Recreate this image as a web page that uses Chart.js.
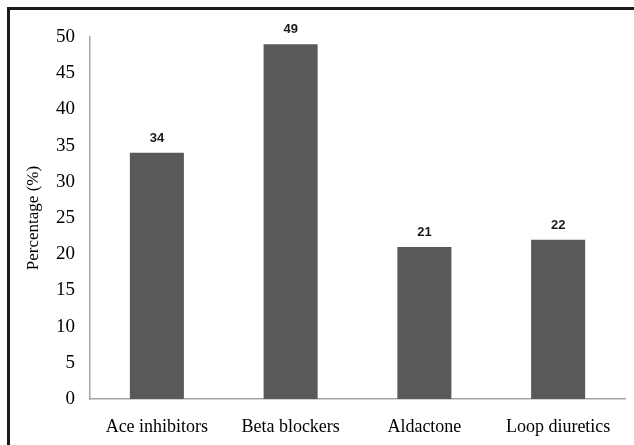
<!DOCTYPE html>
<html>
<head>
<meta charset="utf-8">
<script src="https://cdn.jsdelivr.net/npm/chart.js@4"></script>
<style>
  html, body { margin: 0; padding: 0; background: #ffffff; }
  #wrap { position: relative; width: 634px; height: 445px; overflow: hidden; }
  #frame { position: absolute; left: 7px; top: 7px; width: 700px; height: 500px;
           border-top: 3px solid #1a1a1a; border-left: 3px solid #1a1a1a; box-sizing: border-box; }
  canvas { position: absolute; left: 0; top: 0; }
</style>
</head>
<body>
<div id="wrap">
  <div id="frame"></div>
  <canvas id="chart" width="634" height="445"></canvas>
</div>
<script>
// Medication use by drug class
const categories = ['Ace inhibitors', 'Beta blockers', 'Aldactone', 'Loop diuretics'];
const percentages = [34, 49, 21, 22];
const yTicks = [0, 5, 10, 15, 20, 25, 30, 35, 40, 45, 50];

const barColor = '#595959';
const axisColor = '#a6a6a6';
const serif = '"Liberation Serif", "Times New Roman", serif';

// Writes each bar's value just above it
const valueLabels = {
  id: 'valueLabels',
  afterDatasetsDraw(chart) {
    const ctx = chart.ctx;
    const meta = chart.getDatasetMeta(0);
    ctx.save();
    ctx.font = 'bold 13px "Liberation Sans", Arial, sans-serif';
    ctx.fillStyle = '#1a1a1a';
    ctx.textAlign = 'center';
    ctx.textBaseline = 'alphabetic';
    meta.data.forEach((bar, i) => {
      ctx.fillText(String(percentages[i]), bar.x, bar.y - 11);
    });
    ctx.restore();
  }
};

new Chart(document.getElementById('chart'), {
  type: 'bar',
  data: {
    labels: categories,
    datasets: [{
      data: percentages,
      backgroundColor: barColor,
      borderWidth: 0,
      barPercentage: 0.404,
      categoryPercentage: 1
    }]
  },
  options: {
    responsive: false,
    animation: false,
    devicePixelRatio: 1,
    layout: { padding: { left: 0, right: 9, top: 37, bottom: 0 } },
    plugins: { legend: { display: false }, tooltip: { enabled: false } },
    scales: {
      x: {
        grid: { display: false, drawTicks: false },
        border: { display: true, color: axisColor, width: 1.5 },
        ticks: {
          color: '#000000',
          font: { family: serif, size: 18 },
          padding: 17,
          maxRotation: 0
        },
        afterFit(scale) { scale.height = 46; }
      },
      y: {
        min: 0,
        max: 50,
        afterBuildTicks(scale) { scale.ticks = yTicks.map(v => ({ value: v })); },
        grid: { display: false, drawTicks: false },
        border: { display: true, color: axisColor, width: 1.5 },
        ticks: {
          color: '#000000',
          font: { family: serif, size: 19 },
          padding: 15
        },
        title: {
          display: true,
          text: 'Percentage (%)',
          color: '#000000',
          font: { family: serif, size: 17 },
          padding: { top: 23, bottom: 0 }
        },
        afterFit(scale) { scale.width = 90; }
      }
    }
  },
  plugins: [valueLabels]
});
</script>
</body>
</html>
